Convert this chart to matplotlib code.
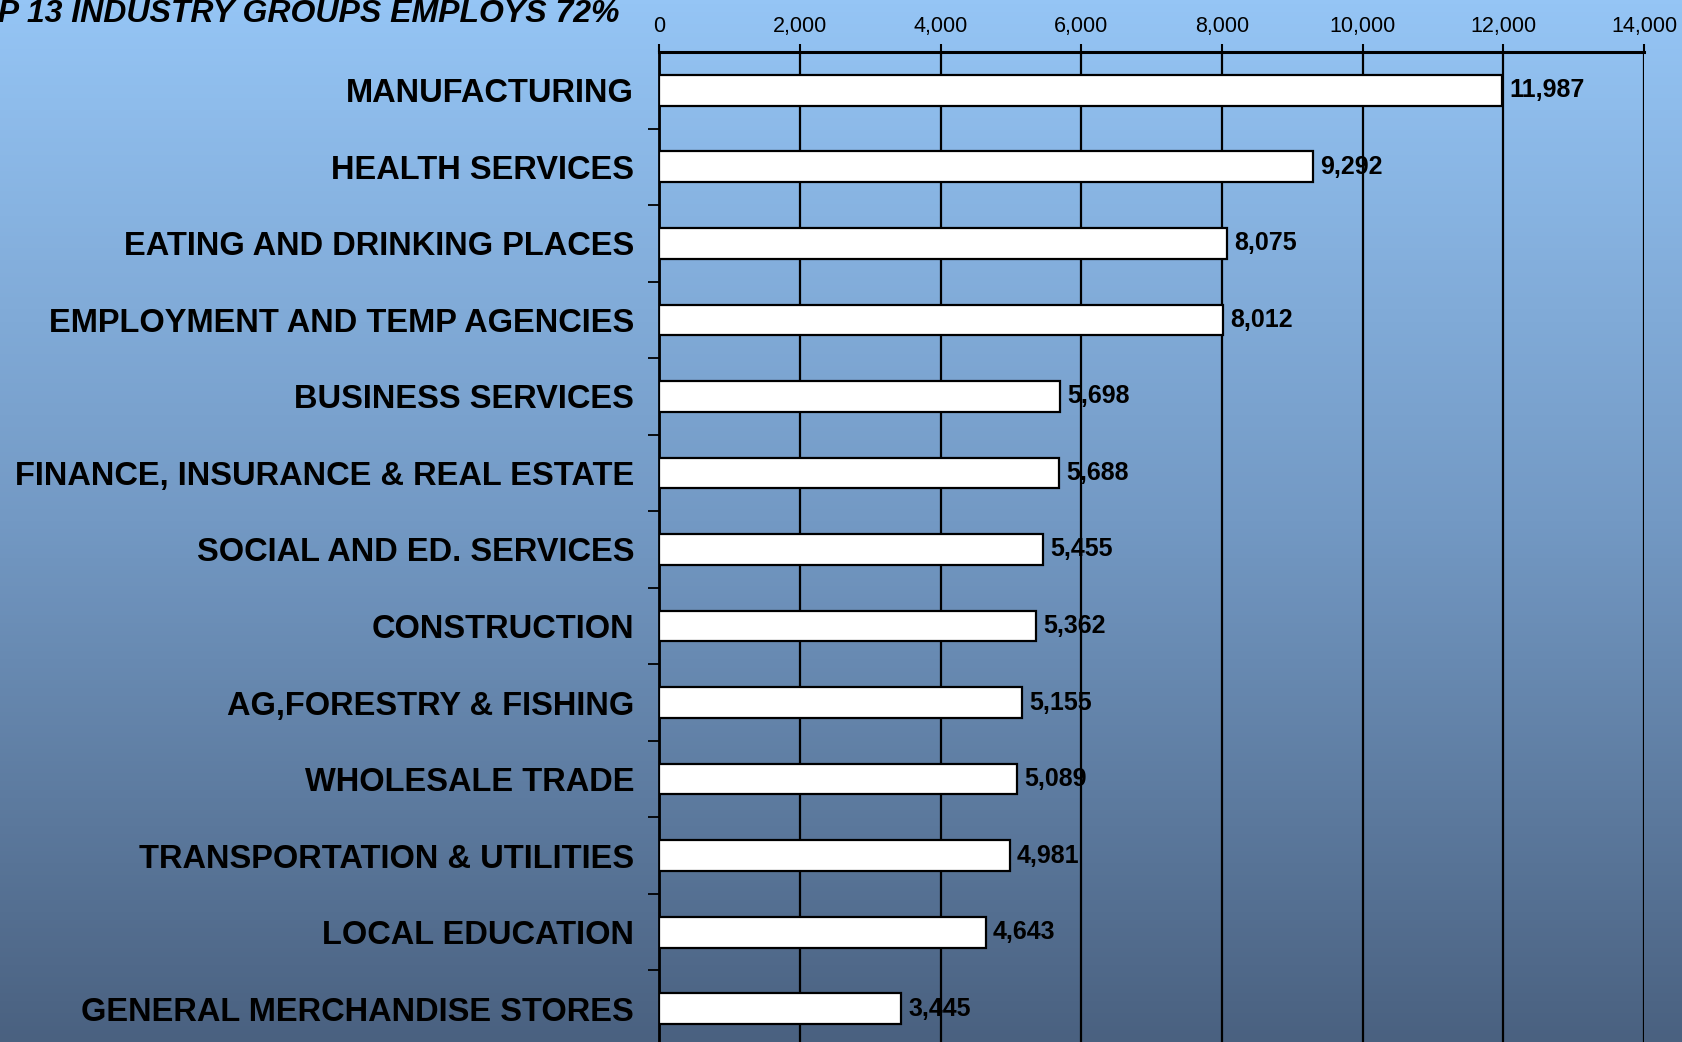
import numpy as np
import matplotlib
matplotlib.use("Agg")
import matplotlib.pyplot as plt
from matplotlib.colors import LinearSegmentedColormap

# data
industries = ["MANUFACTURING", "HEALTH SERVICES", "EATING AND DRINKING PLACES",
              "EMPLOYMENT AND TEMP AGENCIES", "BUSINESS SERVICES",
              "FINANCE, INSURANCE & REAL ESTATE", "SOCIAL AND ED. SERVICES",
              "CONSTRUCTION", "AG,FORESTRY & FISHING", "WHOLESALE TRADE",
              "TRANSPORTATION & UTILITIES", "LOCAL EDUCATION",
              "GENERAL MERCHANDISE STORES"]
employees = [11987, 9292, 8075, 8012, 5698, 5688, 5455, 5362, 5155, 5089, 4981, 4643, 3445]
x_ticks = [0, 2000, 4000, 6000, 8000, 10000, 12000, 14000]
title = "TOP 13 INDUSTRY GROUPS EMPLOYS 72%"

fonts = ["Liberation Sans", "DejaVu Sans"]

fig = plt.figure(figsize=(16.83, 10.42), dpi=100)

# gradient background
bg = fig.add_axes([0, 0, 1, 1], zorder=-5)
cmap = LinearSegmentedColormap.from_list("bg", ["#95c5f5", "#7399c4", "#4a6180"])
grad = np.linspace(0, 1, 256).reshape(-1, 1)
bg.imshow(grad, cmap=cmap, aspect="auto", extent=[0, 1, 0, 1], origin="upper")
bg.axis("off")

ax = fig.add_axes([0.3916, -0.0048, 0.5853, 0.9549])
ax.patch.set_alpha(0)

y = np.arange(len(industries))
ax.barh(y, employees, height=0.4, color="white", edgecolor="black", linewidth=1.6, zorder=3)
for yi, v in zip(y, employees):
    ax.text(v + 100, yi, f"{v:,}", va="center", ha="left", fontsize=18,
            fontweight="bold", family=fonts, zorder=4)

ax.set_xlim(0, 14000)
ax.set_ylim(len(industries) - 0.5, -0.5)
ax.xaxis.tick_top()
ax.set_xticks(x_ticks)
ax.set_xticklabels([f"{t:,}" for t in x_ticks], family=fonts, fontsize=15.5)
ax.tick_params(axis="x", direction="out", length=6, width=1.5, pad=5)
ax.grid(axis="x", color="black", linewidth=1.6, zorder=1)
ax.set_axisbelow(True)

ax.set_yticks(y)
ax.set_yticklabels(industries, fontsize=23.5, fontweight="bold", family=fonts)
ax.tick_params(axis="y", length=0, pad=18)
ax.set_yticks(np.arange(0.5, len(industries) - 0.5), minor=True)
ax.tick_params(axis="y", which="minor", direction="out", length=8, width=1.3)

for s in ["right", "bottom"]:
    ax.spines[s].set_visible(False)
ax.spines["top"].set_linewidth(2.2)
ax.spines["left"].set_linewidth(2)

fig.text(620 / 1683, 1 - 22 / 1042, title, ha="right", va="baseline", fontsize=23,
         fontweight="bold", fontstyle="italic", family=fonts)

fig.savefig("out.png", dpi=100)
